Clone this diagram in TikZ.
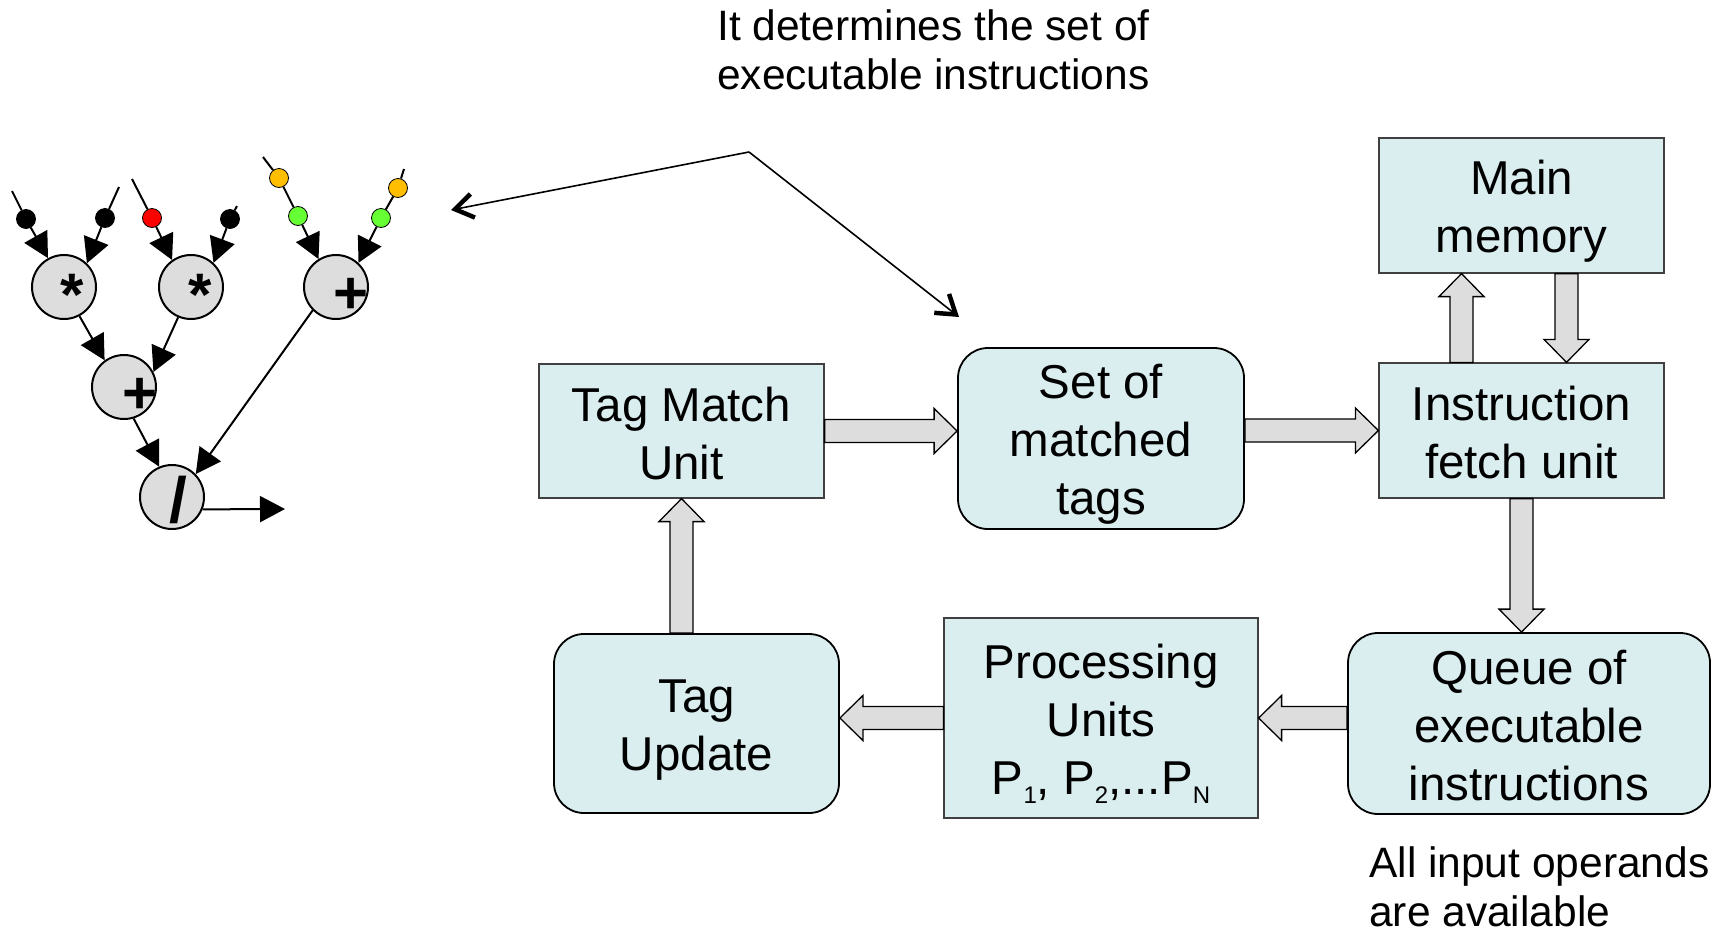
\documentclass[tikz,border=0pt]{standalone}
\usepackage{fontspec}
\setmainfont{Liberation Sans}
\usetikzlibrary{arrows.meta,calc}
\definecolor{boxfill}{RGB}{218,237,239}
\definecolor{arrfill}{RGB}{221,221,221}
\definecolor{tokyel}{RGB}{255,191,0}
\definecolor{tokgrn}{RGB}{102,255,51}
\newcommand\bst{\rule[-8pt]{0pt}{54pt}}
\newcommand\pusub[1]{\raisebox{-9pt}{\fontsize{24}{24}\selectfont #1}}
\newcommand\blkarrow[2]{%
  \draw[blk] let \p1=(#1), \p2=(#2), \p3=($(\p2)!23pt!(\p1)$) in
    ($(\p1)!11.5pt!90:(\p2)$) -- ($(\p3)!11.5pt!90:(\p2)$) -- ($(\p3)!22.5pt!90:(\p2)$)
    -- (\p2) -- ($(\p3)!22.5pt!-90:(\p2)$) -- ($(\p3)!11.5pt!-90:(\p2)$)
    -- ($(\p1)!11.5pt!-90:(\p2)$) -- cycle;}
\begin{document}
\begin{tikzpicture}[x=1pt,y=-1pt,
  rectbox/.style={draw=black!75, line width=1.2pt, fill=boxfill, inner sep=0pt, align=center, font=\fontsize{47.5}{58}\selectfont},
  roundbox/.style={rectbox, draw=black, line width=1.8pt, rounded corners=30pt},
  blk/.style={draw=black, line width=1.3pt, fill=arrfill, line join=miter},
  op/.style={circle, draw=black, line width=2pt, fill=arrfill, inner sep=0pt, minimum size=64pt},
  sym/.style={anchor=base, inner sep=0pt, font=\fontsize{60}{60}\selectfont\bfseries},
  tok/.style={circle, draw=black, line width=0.8pt, inner sep=0pt, minimum size=19pt},
  flow/.style={line width=2pt, -{Triangle[length=25pt,width=26pt]}},
  ann/.style={line width=1.6pt, -{Straight Barb[length=18pt,width=24pt,line width=4.5pt]}},
  note/.style={anchor=north west, inner sep=0pt, align=left, font=\fontsize{42.5}{49}\selectfont}
]
\useasboundingbox (0,0) rectangle (1723,932);

% ---- block diagram ----
\node[rectbox, minimum width=285pt, minimum height=135pt] (mm) at (1521.5,205.5) {\bst Main\\\bst memory};
\node[rectbox, minimum width=285pt, minimum height=135pt] (ifu) at (1521.5,430.5) {\bst Instruction\\\bst fetch unit};
\node[rectbox, minimum width=285pt, minimum height=134pt] (tm) at (681.5,431) {\bst Tag Match\\\bst Unit};
\node[roundbox, minimum width=286pt, minimum height=181pt] (set) at (1101,438.5) {\bst Set of\\\bst matched\\\bst tags};
\node[roundbox, minimum width=362pt, minimum height=181pt] (q) at (1529,723.5) {\bst Queue of\\\bst executable\\\bst instructions};
\node[rectbox, minimum width=314pt, minimum height=200pt] (pu) at (1101,718) {\bst Processing\\\bst Units\\\bst P\pusub{1}, P\pusub{2},...P\pusub{N}};
\node[roundbox, minimum width=285pt, minimum height=179pt] (tu) at (696.5,723.5) {\bst Tag\\\bst Update};

\blkarrow{tm.east}{tm.east -| set.west}
\blkarrow{ifu.west -| set.east}{ifu.west}
\blkarrow{$(ifu.north)+(-60,0)$}{$(mm.south)+(-60,0)$}
\blkarrow{$(mm.south)+(45,0)$}{$(ifu.north)+(45,0)$}
\blkarrow{ifu.south}{ifu.south |- q.north}
\blkarrow{pu.east -| q.west}{pu.east}
\blkarrow{pu.west}{pu.west -| tu.east}
\blkarrow{tm.south |- tu.north}{tm.south}

% ---- notes ----
\node[note] (lbl) at (717,8) {\rule{0pt}{32pt}It determines the set of\\executable instructions};
\node[note] (avail) at (1369,845) {\rule{0pt}{32pt}All input operands\\are available};
\coordinate (kink) at (749,152);
\coordinate (annL) at (451,210);
\coordinate (annR) at (959,317);
\draw[ann] (kink) -- (annL);
\draw[ann] (kink) -- (annR);

% ---- dataflow graph ----
\node[op] (A) at (64,287) {};
\node[op] (B) at (191,287) {};
\node[op] (C) at (336,287) {};
\node[op] (D) at (124,387) {};
\node[op] (E) at (172,497) {};
\node[sym] (sA) at (72.5,315) {*};
\node[sym] (sB) at (200,315) {*};
\node[sym] (sC) at (351,313) {+};
\node[sym] (sD) at (140,413) {+};
\node[sym, font=\fontsize{64}{64}\selectfont\bfseries] (sE) at (178,522) {/};

\coordinate (iA1) at (12,191);
\coordinate (iA2) at (119,187);
\coordinate (iB1) at (132,179);
\coordinate (iB2) at (237,206);
\coordinate (iC1) at (263,157);
\coordinate (iC2) at (404,169);
\coordinate (out) at (285,509);

\node[tok, fill=black] (tA1) at (26,219) {};
\node[tok, fill=black] (tA2) at (105,218) {};
\node[tok, fill=red] (tB1) at (152,218) {};
\node[tok, fill=black] (tB2) at (230,219) {};
\node[tok, fill=tokyel] (yC1) at (279,178) {};
\node[tok, fill=tokgrn] (gC1) at (298,216) {};
\node[tok, fill=tokyel] (yC2) at (398,188) {};
\node[tok, fill=tokgrn] (gC2) at (381,218) {};

\draw[flow] (iA1) -- (tA1) -- (A.119);
\draw[flow] (iA2) -- (tA2) -- (A.46);
\draw[flow] (iB1) -- (tB1) -- (B.125);
\draw[flow] (iB2) -- (tB2) -- (B.47);
\draw[flow] (iC1) -- (yC1) -- (gC1) -- (C.122);
\draw[flow] (iC2) -- (yC2) -- (gC2) -- (C.47);

\draw[flow] (A.298) -- (D.126);
\draw[flow] (B.247) -- (D.27);
\draw[flow] (D.287) -- (E.113);
\draw[flow] (C.225) -- (E.44);
\draw[flow] (E.338) -- (out);
\end{tikzpicture}
\end{document}
